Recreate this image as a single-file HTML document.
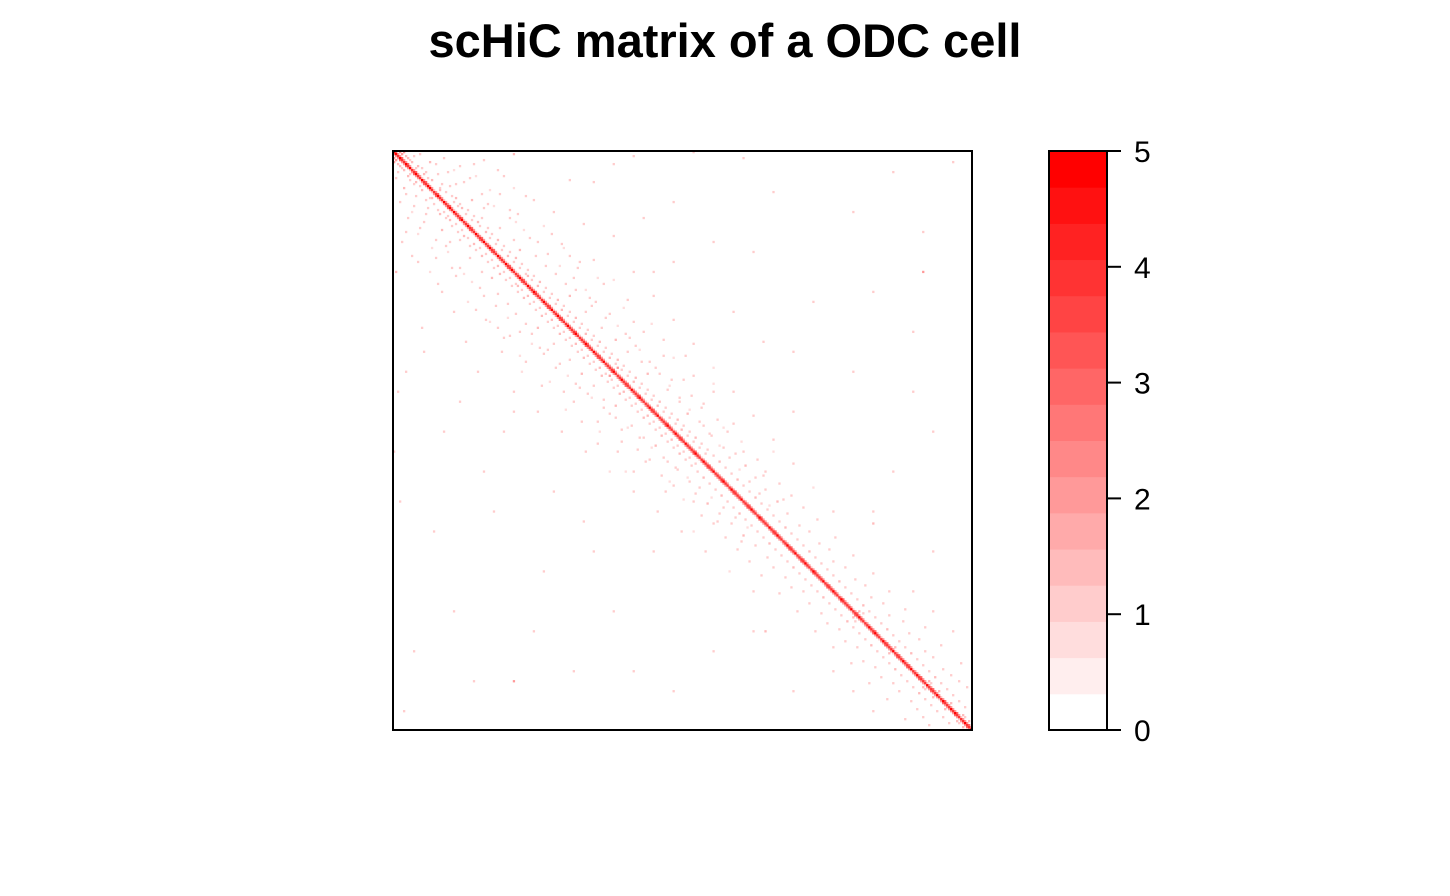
<!DOCTYPE html>
<html><head><meta charset="utf-8"><style>
html,body{margin:0;padding:0;background:#fff;}
svg{display:block;font-family:"Liberation Sans",Arial,sans-serif;}
</style></head><body>
<svg id="chart" width="1450" height="896" viewBox="0 0 1450 896" xmlns="http://www.w3.org/2000/svg">
<text x="725" y="57" text-anchor="middle" font-size="47" font-weight="bold">scHiC matrix of a ODC cell</text>
<g id="cells"></g>
<rect x="393" y="151" width="579" height="579" fill="none" stroke="#000" stroke-width="2"/>
<g id="legend"></g>
</svg>
<script>
const nBins = 290;
const legendTicks = [0,1,2,3,4,5];
const nLevels = 16;
const zMax = 5;
const diag = [
5,5,4,5,4,4,5,4,5,4, 4,5,4,4,5,4,4,5,5,4, 4,4,5,4,4,5,4,4,5,4, 5,4,4,4,5,4,4,5,4,4,
4,5,4,4,4,5,4,4,5,4, 4,4,5,4,4,4,5,4,4,5, 4,4,4,5,4,4,4,5,4,4, 5,4,4,4,4,5,4,4,4,5,
4,4,5,4,4,4,4,5,4,4, 4,5,4,4,4,4,5,4,4,4, 5,4,4,4,4,5,4,4,4,4, 5,4,4,4,5,4,4,4,4,5,
4,4,4,5,4,4,4,4,5,4, 4,4,5,4,4,4,4,5,4,4, 4,5,4,4,4,4,5,4,4,4, 4,5,4,4,4,5,4,4,4,4,
5,4,4,4,4,5,4,4,4,5, 4,4,4,4,5,4,4,4,4,5, 4,4,4,5,4,4,4,4,5,4, 4,4,5,4,4,4,4,5,4,4,
4,5,4,4,4,4,5,4,4,4, 5,4,4,4,4,5,4,4,4,4, 5,4,4,4,5,4,4,4,4,5, 4,4,4,5,4,4,4,4,5,4,
4,5,4,4,4,5,4,4,4,4, 5,4,4,4,4,5,4,4,4,5, 4,4,5,4,4,4,4,5,4,4, 4,4,5,4,4,5,4,4,4,5,
4,5,4,4,4,4,5,4,4,4];
const diag1 = [
3,2,2,3,2,2,3,2,1,2, 3,2,2,1,2,3,2,2,2,1, 2,3,2,2,1,2,2,3,2,1, 2,2,2,3,1,2,2,2,3,2,
1,2,2,3,2,1,2,2,2,3, 2,1,2,2,2,1,2,3,2,2, 1,2,2,2,3,2,1,2,2,2, 3,2,2,1,2,2,2,3,2,1,
2,2,2,3,2,1,2,2,2,2, 3,2,1,2,2,2,3,2,2,1, 2,2,3,2,2,1,2,2,2,3, 2,1,2,2,2,2,3,2,1,2,
2,2,3,2,2,1,2,2,2,3, 2,2,1,2,2,2,3,2,2,1, 2,2,2,3,2,1,2,2,2,2, 3,2,2,1,2,2,2,3,2,2,
1,2,2,2,3,2,2,1,2,2, 3,2,2,2,1,2,2,3,2,2, 2,1,2,3,2,2,2,1,2,2, 3,2,2,2,1,2,2,2,3,2,
2,1,2,2,3,2,2,2,1,2, 3,2,2,2,2,1,2,3,2,2, 2,2,1,2,3,2,2,2,2,1, 2,3,2,2,2,1,2,2,2,2,
3,2,2,1,2,2,3,2,2,2, 1,2,3,2,2,2,2,3,2,1, 2,2,2,3,2,2,1,2,2,3, 2,2,2,1,2,3,2,2,2,2,
2,3,2,1,2,2,2,3,2];
const offDiag = [
[2,10,1],[3,25,1],[5,18,1.5],[6,40,1],[8,14,1],[9,30,0.7],[11,22,1],[12,55,1],[14,19,1.5],[15,35,1],
[17,28,1],[18,60,0.7],[20,26,1],[21,44,1],[23,31,1.5],[24,70,1],[26,33,1],[27,50,0.7],[29,37,1],[30,80,1],
[32,40,1],[33,58,1],[35,42,1.5],[36,95,1],[38,47,1],[39,65,0.7],[41,49,1],[42,110,1],[44,52,1.5],[45,72,1],
[47,55,1],[48,85,0.7],[50,58,1],[51,77,1],[53,61,1.5],[54,100,1],[56,64,1],[57,83,0.7],[59,67,1],[60,120,1],
[62,70,1],[63,90,1],[65,73,1.5],[66,105,1],[68,76,1],[69,96,0.7],[71,79,1],[72,130,1],[74,82,1.5],[75,101,1],
[77,85,1],[78,115,0.7],[80,88,1],[81,108,1],[83,91,1.5],[84,140,1],[86,94,1],[87,112,0.7],[89,97,1],[90,125,1],
[92,100,1],[93,118,1],[95,103,1.5],[96,150,1],[98,106,1],[99,123,0.7],[101,109,1],[102,135,1],[104,112,1.5],[105,128,1],
[107,115,1],[108,160,0.7],[110,118,1],[111,133,1],[113,121,1.5],[114,145,1],[116,124,1],[117,138,0.7],[119,127,1],[120,170,1],
[122,130,1],[123,143,1],[125,133,1.5],[126,155,1],[128,136,1],[129,148,0.7],[131,139,1],[132,180,1],[134,142,1.5],[135,153,1],
[137,145,1],[138,165,0.7],[140,148,1],[141,158,1],[143,151,1.5],[144,190,1],[146,154,1],[147,163,0.7],[149,157,1],[150,175,1],
[152,160,1],[153,168,1],[155,163,1.5],[156,200,1],[158,166,1],[159,173,0.7],[161,169,1],[162,185,1],[164,172,1.5],[165,178,1],
[167,175,1],[168,210,0.7],[170,178,1],[171,183,1],[173,181,1.5],[174,195,1],[176,184,1],[177,188,0.7],[179,187,1],[180,220,1],
[182,190,1],[185,193,1],[188,196,1.5],[191,199,1],[194,202,1],[197,205,1],[200,208,1.5],[203,211,1],[206,214,1],[209,217,1],
[212,220,1],[215,223,1.5],[218,226,1],[221,229,1],[224,232,1],[227,235,1.5],[230,238,1],[233,241,1],[236,244,1],[239,247,1.5],
[242,250,1],[245,253,1],[248,256,1],[251,259,1.5],[254,262,1],[257,265,1],[260,268,1],[263,271,1.5],[266,274,1],[269,277,1],
[272,280,1],[275,283,1],[278,286,1],
[4,8,1],[7,12,1.5],[10,16,1],[13,17,1],[16,24,1],[19,23,1.5],[22,29,1],[25,30,1],[28,34,1.5],[31,36,1],
[34,39,1],[37,43,1],[40,46,1.5],[43,48,1],[46,51,1],[49,54,1],[52,57,1.5],[55,60,1],[58,63,1],[61,66,1],
[64,69,1],[67,72,1.5],[70,75,1],[73,78,1],[76,81,1],[79,84,1.5],[82,87,1],[85,90,1],[88,93,1],[91,96,1.5],
[94,99,1],[97,102,1],[100,105,1],[103,108,1.5],[106,111,1],[109,114,1],[112,117,1],[115,120,1.5],[118,123,1],[121,126,1],
[124,129,1],[127,132,1.5],[130,135,1],[133,138,1],[136,141,1],[139,144,1.5],[142,147,1],[145,150,1],[148,153,1],[151,156,1],
[4,45,1],[9,52,1],[13,38,1],[19,48,0.7],[22,66,1],[28,45,1],[31,62,1],[37,75,0.7],[43,68,1],[52,88,1],
[58,92,1],[64,110,0.7],[73,98,1],[85,120,1],[94,135,1],[103,140,0.7],[112,150,1],[120,160,1],[136,170,1],[150,190,0.7],
[0,150,1],[3,175,1],[1,60,1.5],[10,250,1],[5,280,1],[40,265,1],[60,130,1],[70,240,1],[100,200,1],[30,230,1],
[130,200,1],[180,240,1],[20,190,1],[15,100,1],[2,120,1],[50,180,1],[90,260,1],[160,250,1],[200,270,1],[110,230,1],
[120,260,1],[75,210,1],[140,270,1],[25,140,1],[45,160,1],[60,265,2],[186,240,1.5],[240,280,1],[220,260,1],[230,270,1],
[1,13,1],[3,7,1.5],[6,21,1],[7,33,1],[10,27,1],[12,41,0.7],[16,31,1],[18,23,1],[21,53,1],[24,39,1.5],
[26,47,1],[29,58,1],[33,44,1],[35,61,0.7],[38,53,1],[41,79,1],[44,60,1],[46,84,1],[49,63,1.5],[52,71,1],
[55,93,1],[57,76,1],[61,81,1],[63,102,0.7],[66,86,1],[69,91,1],[72,88,1.5],[74,117,1],[77,99,1],[80,96,1],
[83,106,1],[86,129,0.7],[88,104,1],[91,116,1],[94,111,1.5],[97,121,1],[100,117,1],[102,146,1],[105,124,1],[108,131,1],
[111,127,1.5],[114,139,1],[116,160,0.7],[119,137,1],[122,149,1],[125,143,1],[128,154,1],[131,147,1.5],[134,162,1],[137,155,1],
[140,167,1],[142,159,1],[145,174,0.7],[148,165,1],[151,171,1],[154,182,1],[157,176,1.5],[160,186,1],[163,181,1],[166,193,1],
[169,186,1],[172,199,1],[175,192,1.5],[178,205,1],[181,197,1],[184,212,1],[187,203,1],[190,208,1],[193,221,1],[196,213,1],
[199,218,1],[202,230,1],[205,220,1],[208,226,1],[211,240,1],[214,231,1],[217,236,1],[220,248,1],[223,239,1],[226,245,1],
[229,256,1],[232,248,1],[235,255,1],[238,266,1],[241,258,1],[244,263,1],[247,274,1],[250,266,1],[253,270,1],[256,284,1],
[259,275,1],[262,279,1],[265,283,1],[268,287,1],[6,110,1],[14,88,1],[33,125,1],[55,140,1],[80,170,1],[95,185,1],
[0,5,2],[1,4,2],[2,6,1.5],[0,3,2],[5,9,1.5],[8,11,1],[11,15,1.5],[27,32,1],[62,67,1.5],[108,112,2],
[230,233,1.5],[231,235,1],[248,251,1.5],[265,268,1.5],[266,269,1],[270,273,1.5],[276,279,1.5],[282,285,1.5],[283,286,1],[285,288,1.5]];

const x0 = 393, y0 = 151, side = 579;
const cs = side / nBins;
function xPos(c){ return x0 + c * cs; }
function yPos(r){ return y0 + r * cs; }
function colorFor(v){
  let k = Math.min(nLevels - 1, Math.floor(v / zMax * nLevels));
  if (k <= 0) return null;
  const g = Math.round(255 * (1 - k / (nLevels - 1)));
  return 'rgb(255,' + g + ',' + g + ')';
}
const NS = 'http://www.w3.org/2000/svg';
const cells = document.getElementById('cells');
function addCell(r, c, v){
  const col = colorFor(v);
  if (!col) return;
  const el = document.createElementNS(NS, 'rect');
  
  
  el.setAttribute('x', xPos(c));
  el.setAttribute('y', yPos(r));
  el.setAttribute('width', cs + 0.3);
  el.setAttribute('height', cs + 0.3);
  el.setAttribute('fill', col);
  cells.appendChild(el);
}
offDiag.forEach(p => { addCell(p[0], p[1], p[2]); addCell(p[1], p[0], p[2]); });
diag1.forEach((v, i) => { addCell(i, i + 1, v); addCell(i + 1, i, v); });
diag.forEach((v, i) => addCell(i, i, v));

const lg = document.getElementById('legend');
const lx = 1049, lw = 58, ly0 = 151, lh = 579;
function legY(v){ return ly0 + lh - v / zMax * lh; }
for (let k = 0; k < nLevels; k++) {
  const g = Math.round(255 * (1 - k / (nLevels - 1)));
  const el = document.createElementNS(NS, 'rect');
  
  
  const vTop = (k + 1) * zMax / nLevels, vBot = k * zMax / nLevels;
  el.setAttribute('x', lx);
  el.setAttribute('y', legY(vTop));
  el.setAttribute('width', lw);
  el.setAttribute('height', legY(vBot) - legY(vTop) + 0.5);
  el.setAttribute('fill', 'rgb(255,' + g + ',' + g + ')');
  lg.appendChild(el);
}
const fr = document.createElementNS(NS, 'rect');


fr.setAttribute('x', lx); fr.setAttribute('y', ly0);
fr.setAttribute('width', lw); fr.setAttribute('height', lh);
fr.setAttribute('fill', 'none'); fr.setAttribute('stroke', '#000'); fr.setAttribute('stroke-width', '2');
lg.appendChild(fr);
legendTicks.forEach(t => {
  const y = legY(t);
  const ln = document.createElementNS(NS, 'line');
  
  
  ln.setAttribute('x1', lx + lw); ln.setAttribute('x2', lx + lw + 14);
  ln.setAttribute('y1', y); ln.setAttribute('y2', y);
  ln.setAttribute('stroke', '#000'); ln.setAttribute('stroke-width', '2');
  lg.appendChild(ln);
  const tx = document.createElementNS(NS, 'text');
  
  
  tx.setAttribute('x', lx + lw + 27); tx.setAttribute('y', y + 11);
  tx.setAttribute('font-size', '30');
  tx.textContent = String(t);
  lg.appendChild(tx);
});
</script>
</body></html>
